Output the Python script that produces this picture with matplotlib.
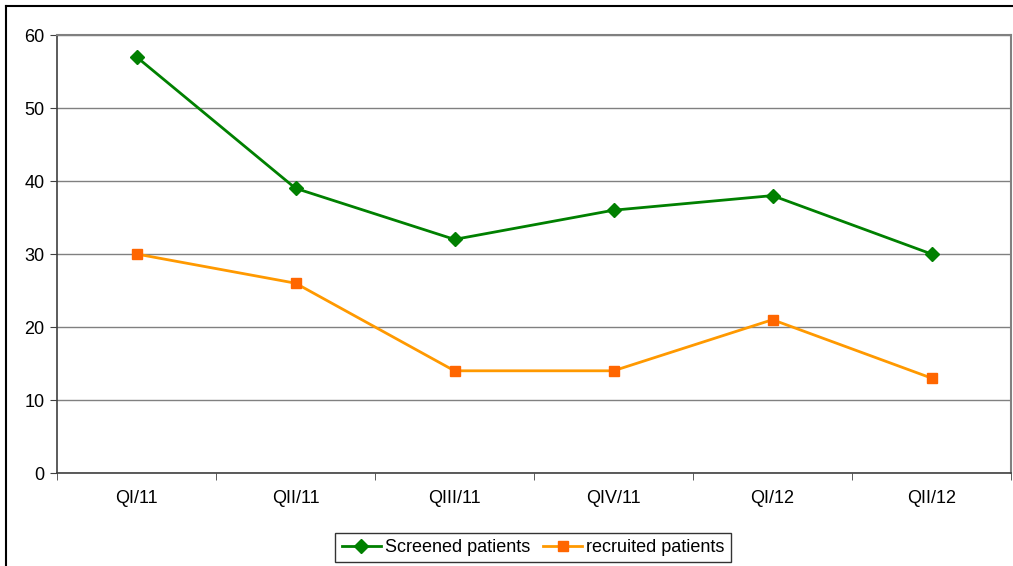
import matplotlib.pyplot as plt
from matplotlib.lines import Line2D
import numpy as np

quarters = ["QI/11", "QII/11", "QIII/11", "QIV/11", "QI/12", "QII/12"]
screened = [57, 39, 32, 36, 38, 30]
recruited = [30, 26, 14, 14, 21, 13]

plt.rcParams['font.family'] = ['Liberation Sans', 'DejaVu Sans']

fig = plt.figure(figsize=(10.13, 5.66), dpi=100)
ax = fig.add_axes([57 / 1013, 1 - 473 / 566, (1011 - 57) / 1013, (473 - 35) / 566])

x = np.arange(len(quarters)) + 0.5
ax.plot(x, screened, color='#008000', lw=2, marker='D', ms=7,
        label='Screened patients')
ax.plot(x, recruited, color='#FF9900', lw=2, marker='s', ms=7,
        markerfacecolor='#FF6600', markeredgecolor='#FF6600',
        label='recruited patients')

ax.set_xlim(0, len(quarters))
ax.set_ylim(0, 60)
ax.set_yticks(range(0, 61, 10))
ax.yaxis.grid(True, color='#808080', lw=1)
ax.set_axisbelow(True)

ax.set_xticks(x)
ax.set_xticklabels(quarters)
ax.set_xticks(np.arange(len(quarters) + 1), minor=True)
ax.tick_params(axis='x', which='major', length=0, pad=12, labelsize=13)
ax.tick_params(axis='x', which='minor', length=5, color='#404040')
ax.tick_params(axis='y', length=5, color='#404040', labelsize=13, pad=4)

for s in ['top', 'right']:
    ax.spines[s].set_color('#808080')
    ax.spines[s].set_linewidth(1.5)
for s in ['left', 'bottom']:
    ax.spines[s].set_color('#404040')
    ax.spines[s].set_linewidth(1.2)

# outer chart border
fig.add_artist(Line2D([6 / 1013, 6 / 1013], [0, 1 - 6 / 566], color='black', lw=1.5))
fig.add_artist(Line2D([6 / 1013, 1], [1 - 6 / 566, 1 - 6 / 566], color='black', lw=1.5))

leg = fig.legend(loc='center', bbox_to_anchor=(533 / 1013, 1 - 547.5 / 566), ncol=2,
                 fontsize=13, frameon=True, fancybox=False, edgecolor='black',
                 handlelength=2.2, columnspacing=0.7, handletextpad=0.2,
                 borderpad=0.35, borderaxespad=0)
leg.get_frame().set_linewidth(1)

fig.savefig('out.png', dpi=100)
